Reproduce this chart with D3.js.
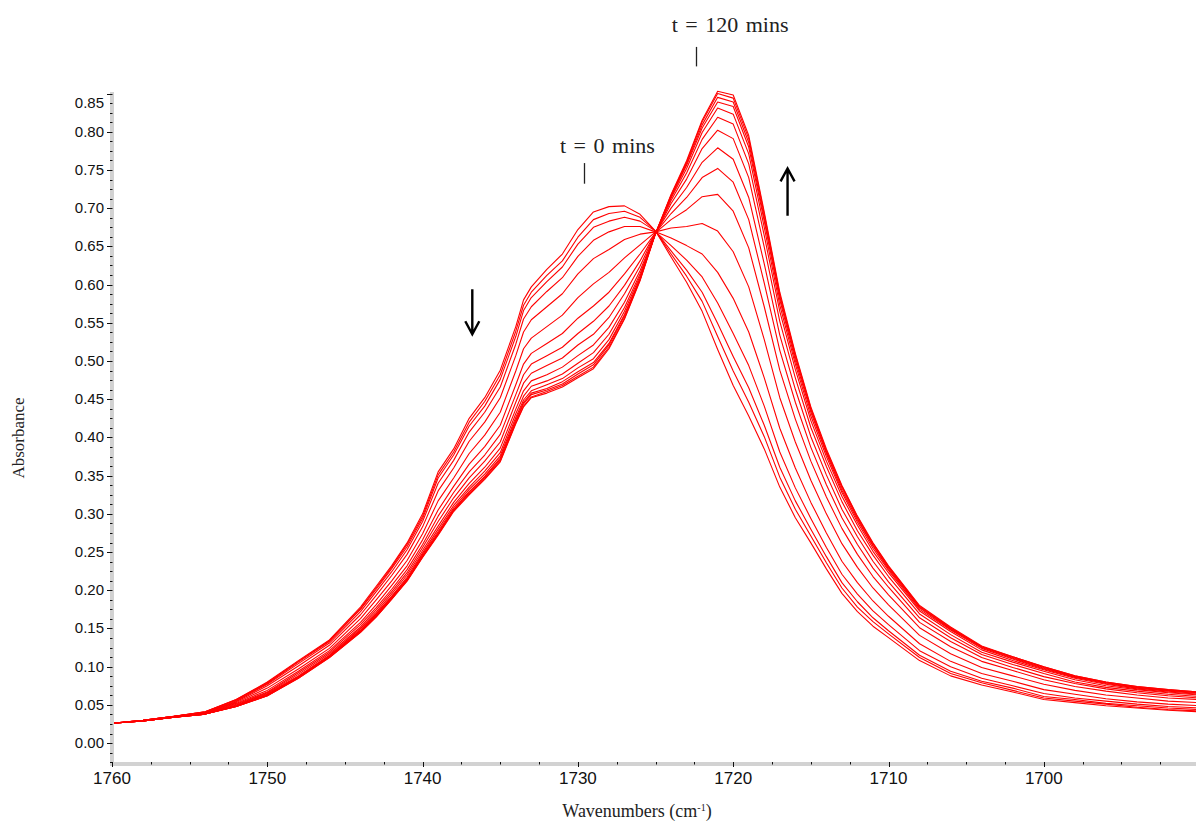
<!DOCTYPE html>
<html>
<head>
<meta charset="utf-8">
<script src="https://cdn.jsdelivr.net/npm/d3@7"></script>
<style>
  body { margin: 0; background: #ffffff; }
  svg { display: block; }
</style>
</head>
<body>
<svg id="chart" width="1196" height="825"></svg>
<script>
// Wavenumber grid (cm-1) shared by every spectrum
const wavenumbers = [1760,1758,1756,1754,1752,1750,1748,1746,1744,1743,1742,1741,1740,1739,1738,1737,1736,1735,1734,1733.5,1733,1732,1731,1730,1729,1728,1727,1726,1725,1724,1723,1722,1721,1720,1719,1718,1717,1716,1715,1714,1713,1712,1711,1710,1708,1706,1704,1702,1700,1698,1696,1694,1692,1690];

// Absorbance spectra, first (t = 0 mins) to last (t = 120 mins)
const absorbance00 = [.026,.030,.035,.041,.057,.080,.108,.135,.178,.205,.232,.262,.300,.355,.385,.425,.452,.488,.545,.580,.597,.620,.640,.672,.695,.702,.703,.692,.670,.636,.603,.565,.515,.468,.428,.385,.335,.295,.262,.228,.196,.172,.153,.138,.108,.088,.076,.067,.057,.053,.049,.046,.043,.041];
const absorbance01 = [.026,.030,.035,.041,.057,.079,.107,.134,.176,.203,.230,.260,.297,.351,.381,.420,.447,.482,.539,.573,.590,.612,.631,.662,.685,.693,.696,.688,.670,.640,.611,.578,.532,.487,.446,.401,.348,.306,.271,.236,.203,.178,.159,.143,.112,.091,.079,.069,.059,.055,.051,.047,.044,.042];
const absorbance02 = [.026,.030,.035,.041,.056,.078,.106,.133,.175,.201,.228,.257,.294,.347,.377,.415,.441,.476,.532,.566,.583,.604,.623,.653,.675,.683,.688,.683,.670,.644,.619,.590,.549,.506,.465,.416,.361,.317,.280,.244,.210,.185,.164,.147,.115,.094,.081,.072,.061,.057,.052,.049,.046,.044];
const absorbance03 = [.026,.030,.035,.040,.055,.077,.104,.131,.172,.198,.224,.253,.290,.340,.370,.407,.433,.466,.522,.555,.571,.591,.609,.637,.658,.669,.676,.676,.669,.651,.632,.610,.576,.536,.494,.441,.381,.334,.294,.256,.221,.195,.173,.155,.121,.100,.085,.075,.065,.059,.055,.051,.048,.046];
const absorbance04 = [.026,.030,.035,.040,.054,.075,.101,.128,.168,.193,.219,.247,.283,.330,.360,.395,.420,.452,.507,.538,.554,.571,.588,.614,.634,.646,.659,.666,.669,.661,.651,.640,.616,.582,.538,.478,.412,.360,.315,.275,.238,.210,.186,.166,.130,.107,.091,.081,.070,.064,.058,.054,.051,.049];
const absorbance05 = [.026,.030,.035,.040,.053,.072,.097,.124,.163,.187,.212,.239,.274,.317,.347,.379,.403,.433,.487,.516,.530,.545,.560,.583,.601,.616,.635,.652,.669,.674,.676,.680,.670,.643,.597,.528,.452,.394,.344,.300,.261,.230,.203,.181,.141,.117,.099,.088,.077,.069,.063,.059,.055,.053];
const absorbance06 = [.026,.029,.034,.039,.052,.069,.094,.121,.158,.181,.206,.232,.266,.305,.336,.365,.388,.416,.469,.496,.510,.523,.536,.556,.572,.590,.614,.640,.668,.685,.698,.715,.718,.696,.648,.571,.488,.424,.369,.322,.281,.247,.218,.194,.151,.126,.107,.095,.083,.074,.068,.063,.059,.057];
const absorbance07 = [.026,.029,.034,.039,.051,.067,.092,.119,.155,.177,.201,.227,.260,.297,.328,.355,.377,.404,.456,.482,.496,.507,.518,.536,.552,.572,.599,.631,.668,.693,.714,.740,.752,.734,.685,.602,.514,.446,.387,.338,.295,.260,.229,.204,.158,.133,.112,.099,.087,.078,.071,.066,.062,.059];
const absorbance08 = [.026,.029,.034,.039,.050,.066,.090,.117,.152,.174,.198,.223,.256,.290,.321,.347,.369,.394,.446,.471,.484,.494,.504,.521,.535,.557,.588,.624,.668,.700,.727,.760,.779,.764,.714,.627,.534,.463,.401,.351,.306,.270,.238,.211,.164,.138,.116,.103,.091,.080,.073,.068,.064,.061];
const absorbance09 = [.026,.029,.034,.038,.049,.065,.088,.115,.150,.171,.195,.220,.252,.284,.315,.340,.361,.386,.437,.461,.474,.482,.492,.507,.521,.544,.577,.618,.667,.706,.738,.778,.802,.791,.740,.649,.552,.478,.413,.362,.316,.278,.246,.218,.169,.142,.119,.106,.094,.083,.075,.070,.066,.063];
const absorbance10 = [.026,.029,.034,.038,.049,.064,.087,.114,.148,.169,.192,.217,.249,.280,.311,.335,.356,.380,.431,.454,.467,.474,.483,.497,.511,.535,.570,.614,.667,.710,.746,.790,.819,.810,.758,.664,.565,.489,.422,.369,.323,.285,.251,.223,.173,.146,.122,.108,.096,.085,.077,.071,.067,.064];
const absorbance11 = [.026,.029,.034,.038,.049,.063,.087,.113,.147,.168,.191,.215,.247,.277,.308,.332,.352,.376,.426,.449,.461,.469,.477,.491,.503,.528,.565,.611,.667,.713,.752,.799,.831,.823,.771,.675,.573,.496,.428,.375,.328,.289,.255,.226,.175,.148,.124,.110,.097,.086,.078,.072,.068,.065];
const absorbance12 = [.026,.029,.034,.038,.048,.063,.086,.113,.146,.167,.190,.214,.245,.275,.306,.329,.349,.373,.423,.446,.458,.464,.473,.486,.498,.523,.561,.608,.667,.715,.756,.805,.839,.833,.780,.683,.580,.501,.433,.379,.331,.292,.258,.228,.177,.149,.125,.111,.098,.087,.079,.073,.069,.066];
const absorbance13 = [.026,.029,.034,.038,.048,.062,.086,.113,.146,.166,.189,.213,.244,.274,.305,.328,.348,.371,.421,.444,.456,.462,.470,.483,.495,.521,.559,.607,.667,.716,.758,.809,.845,.839,.786,.687,.584,.505,.436,.381,.334,.294,.259,.230,.178,.150,.126,.112,.099,.087,.079,.073,.069,.066];
const absorbance14 = [.026,.029,.034,.038,.048,.062,.085,.112,.145,.165,.188,.213,.244,.273,.304,.326,.346,.369,.419,.441,.453,.460,.468,.480,.492,.518,.556,.606,.667,.717,.760,.813,.850,.844,.791,.692,.587,.508,.438,.383,.336,.296,.261,.231,.179,.151,.126,.113,.100,.088,.080,.074,.070,.067];
const absorbance15 = [.026,.029,.034,.038,.048,.062,.085,.112,.145,.165,.188,.212,.243,.272,.303,.325,.345,.368,.418,.440,.452,.458,.466,.478,.490,.516,.555,.605,.667,.718,.762,.815,.853,.848,.795,.695,.590,.510,.440,.385,.337,.297,.262,.232,.180,.152,.127,.113,.100,.088,.080,.074,.070,.067];

// Axis ticks
const xTickValues = [1760, 1750, 1740, 1730, 1720, 1710, 1700];
const yTickValues = [0.00,0.05,0.10,0.15,0.20,0.25,0.30,0.35,0.40,0.45,0.50,0.55,0.60,0.65,0.70,0.75,0.80,0.85];

// Text drawn on the chart
const xTitle = "Wavenumbers (cm";
const xTitleSup = "-1";
const yTitle = "Absorbance";
const startLabel = "t = 0 mins";
const endLabel = "t = 120 mins";

const spectra = [absorbance00, absorbance01, absorbance02, absorbance03, absorbance04, absorbance05,
  absorbance06, absorbance07, absorbance08, absorbance09, absorbance10, absorbance11,
  absorbance12, absorbance13, absorbance14, absorbance15];

const svg = d3.select("#chart");
const plotLeft = 112, plotRight = 1196, plotTop = 92, plotBottom = 763;

const x = d3.scaleLinear().domain([1760, 1690.2]).range([plotLeft, plotRight]);
const y = d3.scaleLinear().domain([-0.026, 0.852]).range([plotBottom, plotTop]);

const sans = "'Liberation Sans', Arial, sans-serif";
const serif = "'Liberation Serif', 'Times New Roman', serif";

// Clip for the spectra
svg.append("defs").append("clipPath").attr("id", "plotClip")
  .append("rect").attr("x", plotLeft).attr("y", 0)
  .attr("width", plotRight - plotLeft).attr("height", plotBottom);

// Spectra
const line = d3.line()
  .x((d, i) => x(wavenumbers[i]))
  .y(d => y(d));

svg.append("g").attr("clip-path", "url(#plotClip)")
  .selectAll("path").data(spectra).join("path")
  .attr("d", line)
  .attr("fill", "none")
  .attr("stroke", "#ff0000")
  .attr("stroke-width", 1.1)
  .attr("stroke-linejoin", "round");

// Axis bands
svg.append("rect").attr("x", plotLeft - 2).attr("y", plotTop)
  .attr("width", 4).attr("height", plotBottom - plotTop + 3)
  .attr("fill", "#d2d2d2");
svg.append("rect").attr("x", plotLeft - 2).attr("y", plotBottom - 1)
  .attr("width", plotRight - plotLeft + 2).attr("height", 4)
  .attr("fill", "#d2d2d2");

// Y ticks
const yg = svg.append("g");
const yMinor = d3.range(-0.025, 0.852, 0.0125)
  .filter(v => Math.abs(Math.round(v / 0.05) * 0.05 - v) > 1e-6);
yg.selectAll("line.minor").data(yMinor).join("line")
  .attr("class", "minor")
  .attr("x1", plotLeft - 2).attr("x2", plotLeft + 0.5)
  .attr("y1", d => Math.round(y(d)) + 0.5).attr("y2", d => Math.round(y(d)) + 0.5)
  .attr("stroke", "#111").attr("stroke-width", 1);
yg.selectAll("line.major").data(yTickValues).join("line")
  .attr("class", "major")
  .attr("x1", plotLeft - 5).attr("x2", plotLeft + 0.5)
  .attr("y1", d => Math.round(y(d)) + 0.5).attr("y2", d => Math.round(y(d)) + 0.5)
  .attr("stroke", "#111").attr("stroke-width", 1);
yg.selectAll("text").data(yTickValues).join("text")
  .attr("x", plotLeft - 8)
  .attr("y", d => Math.max(y(d), plotTop + 11) + 5)
  .attr("text-anchor", "end")
  .attr("font-family", sans).attr("font-size", 15).attr("fill", "#111")
  .text(d => d3.format(".2f")(d));

// X ticks
const xg = svg.append("g");
const xMinor = d3.range(1757.5, 1690, -2.5).filter(v => v % 10 !== 0);
xg.selectAll("line.minor").data(xMinor).join("line")
  .attr("class", "minor")
  .attr("x1", d => Math.round(x(d)) + 0.5).attr("x2", d => Math.round(x(d)) + 0.5)
  .attr("y1", plotBottom - 1).attr("y2", plotBottom + 1.5)
  .attr("stroke", "#111").attr("stroke-width", 1);
xg.selectAll("line.major").data(xTickValues).join("line")
  .attr("class", "major")
  .attr("x1", d => Math.round(x(d)) + 0.5).attr("x2", d => Math.round(x(d)) + 0.5)
  .attr("y1", plotBottom - 1).attr("y2", plotBottom + 4)
  .attr("stroke", "#111").attr("stroke-width", 1);
xg.selectAll("text").data(xTickValues).join("text")
  .attr("x", d => x(d))
  .attr("y", 784)
  .attr("text-anchor", "middle")
  .attr("font-family", sans).attr("font-size", 17).attr("fill", "#111")
  .text(d => d);

// Axis titles
const xt = svg.append("text")
  .attr("x", 637).attr("y", 817)
  .attr("text-anchor", "middle")
  .attr("font-family", serif).attr("font-size", 18).attr("fill", "#222");
xt.append("tspan").text(xTitle);
xt.append("tspan").attr("font-size", 10).attr("dy", -6).text(xTitleSup);
xt.append("tspan").attr("dy", 6).text(")");

svg.append("text")
  .attr("transform", "translate(24,438) rotate(-90)")
  .attr("text-anchor", "middle")
  .attr("font-family", serif).attr("font-size", 17).attr("fill", "#222")
  .text(yTitle);

// Peak markers with labels
const markers = [
  { label: startLabel, wn: 1729.6, textWn: 1728.1, lineTop: 0.759, lineBottom: 0.732, textY: 0.772 },
  { label: endLabel, wn: 1722.4, textWn: 1720.2, lineTop: 0.911, lineBottom: 0.8855, textY: 0.931 }
];
markers.forEach(m => {
  svg.append("line")
    .attr("x1", Math.round(x(m.wn)) + 0.5).attr("x2", Math.round(x(m.wn)) + 0.5)
    .attr("y1", y(m.lineTop)).attr("y2", y(m.lineBottom))
    .attr("stroke", "#222").attr("stroke-width", 1.3);
  svg.append("text")
    .attr("x", x(m.textWn)).attr("y", y(m.textY))
    .attr("text-anchor", "middle")
    .attr("font-family", serif).attr("font-size", 22).attr("fill", "#222")
    .attr("word-spacing", 2)
    .text(m.label);
});

// Direction arrows
function arrow(wn, vFrom, vTo) {
  const ax = x(wn), y0 = y(vFrom), y1 = y(vTo);
  const dir = y1 > y0 ? 1 : -1;
  svg.append("path")
    .attr("d", `M${ax},${y0} L${ax},${y1} M${ax - 7},${y1 - dir * 13} L${ax},${y1} L${ax + 7},${y1 - dir * 13}`)
    .attr("fill", "none").attr("stroke", "#000").attr("stroke-width", 2.4)
    .attr("stroke-linecap", "butt").attr("stroke-linejoin", "miter");
}
arrow(1736.8, 0.594, 0.535);   // falling band
arrow(1716.5, 0.690, 0.752);   // rising band
</script>
</body>
</html>
